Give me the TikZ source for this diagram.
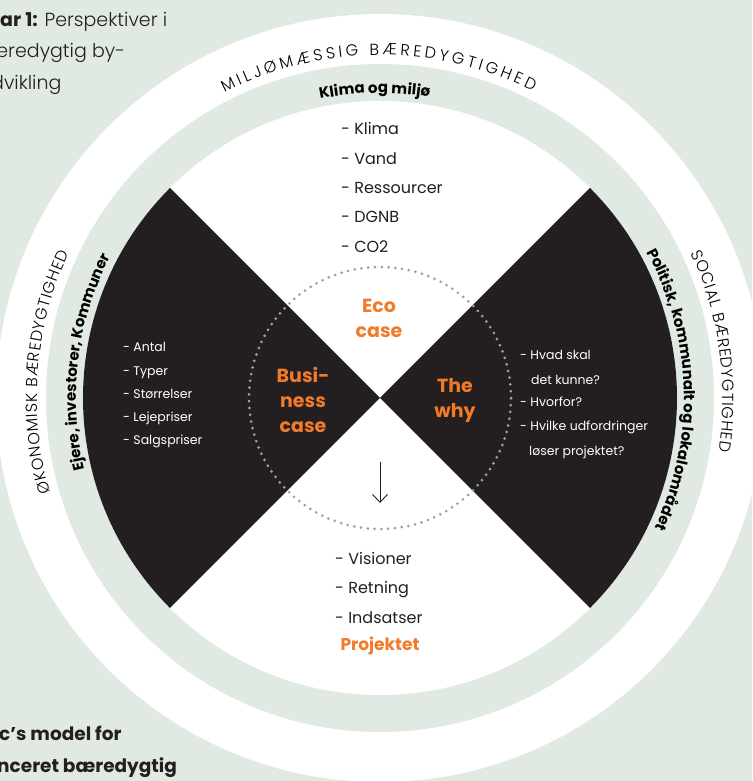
\documentclass[tikz,border=0pt]{standalone}
\usepackage{fontspec}
\setmainfont{Poppins}
\newfontfamily\lightfont{Poppins Light}
\usepackage{xcolor}
\usetikzlibrary{arrows.meta,decorations.text}

\definecolor{sage}{RGB}{224,234,227}
\definecolor{ink}{RGB}{35,31,32}
\definecolor{accent}{RGB}{241,123,41}
\definecolor{dotgray}{RGB}{160,160,160}

\newcommand\ringfont{\lightfont\fontsize{16}{16}\selectfont}
\newcommand\bandfont{\bfseries\fontsize{15}{15}\selectfont}

\begin{document}
\begin{tikzpicture}[
    x=1pt, y=1pt,
    item/.style={font=\fontsize{16}{18}\selectfont, text=ink, anchor=base west, inner sep=0pt},
    wingitem/.style={font=\fontsize{12.5}{14}\selectfont, text=white, anchor=base west, inner sep=0pt},
    casename/.style={font=\bfseries\fontsize{19}{25}\selectfont, text=accent, align=center, inner sep=0pt},
    caption/.style={font=\fontsize{19}{22}\selectfont, text=ink, anchor=base west, inner sep=0pt},
    wing/.style={fill=ink},
    dotring/.style={draw=dotgray, line width=3pt, line cap=round, dash pattern=on 0pt off 6.8pt},
    flow/.style={-{Straight Barb[length=8pt, width=15pt]}, draw=ink, line width=0.9pt},
    ringtext/.style={decorate, decoration={text along path, text align=fit to path, text={|\ringfont|#1}}},
    bandtext/.style={decorate, decoration={text along path, text align=center, text={|\bandfont|#1}}}
]
    \useasboundingbox (-380,-383) rectangle (372,398);
    \clip (-380,-383) rectangle (372,398);

    % Background and rings
    \fill[sage] (-380,-383) rectangle (372,398);
    \fill[white] (0,0) circle[radius=384];
    \fill[sage] (0,0) circle[radius=334];
    \fill[white] (0,0) circle[radius=297];

    % Black wings
    \fill[wing] (0,0) -- (135:297) arc[start angle=135, end angle=225, radius=297] -- cycle;
    \fill[wing] (0,0) -- (-45:297) arc[start angle=-45, end angle=45, radius=297] -- cycle;

    % Dotted circle
    \draw[dotring] (0,0) circle[radius=131];

    % Outer ring labels
    \path[ringtext={MILJØMÆSSIG BÆREDYGTIGHED}] (117:343) arc[start angle=117, end angle=63.5, radius=343];
    \path[ringtext={ØKONOMISK BÆREDYGTIGHED}] (196:343) arc[start angle=196, end angle=155, radius=343];
    \path[ringtext={SOCIAL BÆREDYGTIGHED}] (25:343) arc[start angle=25, end angle=-9, radius=343];

    % Green band labels
    \path[bandtext={Klima og miljø}] (116:305) arc[start angle=116, end angle=66, radius=305];
    \path[bandtext={Ejere, investorer, Kommuner}] (203:304) arc[start angle=203, end angle=143, radius=304];
    \path[bandtext={Politisk, kommunalt og lokalområdet}] (41.7:304) arc[start angle=41.7, end angle=-38.3, radius=304];

    % Cases
    \node[casename] (ecocase) at (-1,80) {Eco\\case};
    \node[casename] (bizcase) at (-77,-2) {Busi-\\ness\\case};
    \node[casename] (whycase) at (75,-2) {The\\why};

    % Lists
    \foreach \txt [count=\i] in {Klima, Vand, Ressourcer, DGNB, CO2}
        \node[item] (eco\i) at (-39,{292.3-29.3*\i}) {- \txt};
    \foreach \txt [count=\i] in {Antal, Typer, Størrelser, Lejepriser, Salgspriser}
        \node[wingitem] (biz\i) at (-257,{69.25-23.25*\i}) {- \txt};
    \foreach \x/\y/\txt [count=\i] in {140/38/- Hvad skal, 151/13/det kunne?, 140/-9/- Hvorfor?,
        140/-33/- Hvilke udfordringer, 149/-57/løser projektet?}
        \node[wingitem] (why\i) at (\x,\y) {\txt};
    \foreach \txt [count=\i] in {Visioner, Retning, Indsatser}
        \node[item] (proj\i) at (-45,{-136.5-29.5*\i}) {- \txt};
    \node[font=\bfseries\fontsize{17}{20}\selectfont, text=accent, anchor=base, inner sep=0pt] (projektet) at (0,-252) {Projektet};

    % Arrow
    \coordinate (arrowtop) at (0,-64);
    \coordinate (arrowtip) at (0,-105);
    \draw[flow] (arrowtop) -- (arrowtip);

    % Captions, cut at the left edge
    \node[caption] (fig1) at (-380,371) {\textbf{ar 1:} {\lightfont Perspektiver i}};
    \node[caption] (fig2) at (-393,340) {\lightfont æredygtig by-};
    \node[caption] (fig3) at (-389,308) {\lightfont dvikling};
    \node[caption, font=\bfseries\fontsize{18.5}{22}\selectfont] (model1) at (-381,-342) {c’s model for};
    \node[caption, font=\bfseries\fontsize{18.5}{22}\selectfont] (model2) at (-383,-374) {nceret bæredygtig};
\end{tikzpicture}
\end{document}
